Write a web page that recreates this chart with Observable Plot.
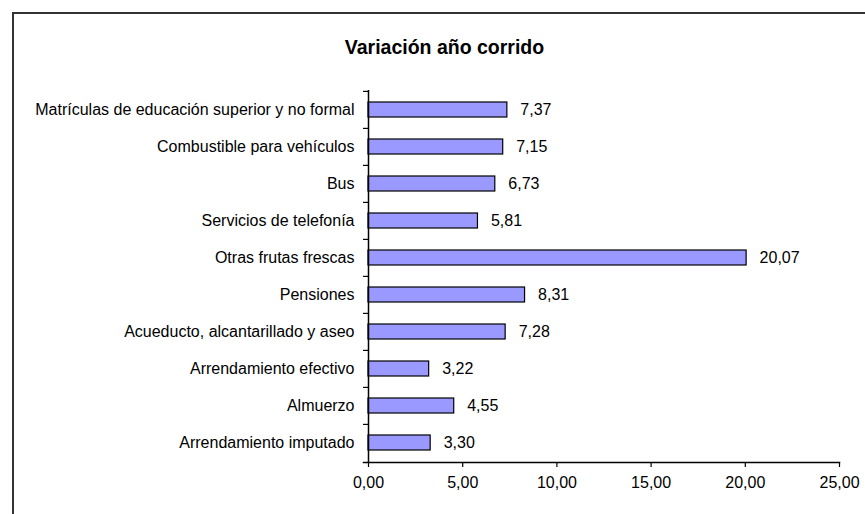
<!DOCTYPE html>
<html>
<head>
<meta charset="utf-8">
<script src="https://cdn.jsdelivr.net/npm/d3@7"></script>
<script src="https://cdn.jsdelivr.net/npm/@observablehq/plot@0.6"></script>
<style>
  html, body { margin: 0; padding: 0; background: #fff; }
  #wrap { position: relative; width: 865px; height: 514px; overflow: hidden; font-family: "Liberation Sans", Arial, sans-serif; }
  #border { position: absolute; left: 12px; top: 12px; width: 900px; height: 600px; border-left: 2px solid #333; border-top: 2px solid #333; }
  #title { position: absolute; left: 0; width: 889px; top: 36px; line-height: 22px; text-align: center; font-weight: bold; font-size: 19.5px; color: #000; }
  #chart { position: absolute; left: 0; top: 0; }
</style>
</head>
<body>
<div id="wrap">
  <div id="border"></div>
  <div id="title">Variación año corrido</div>
  <div id="chart"></div>
</div>
<script>
const categories = [
  "Matrículas de educación superior y no formal",
  "Combustible para vehículos",
  "Bus",
  "Servicios de telefonía",
  "Otras frutas frescas",
  "Pensiones",
  "Acueducto, alcantarillado y aseo",
  "Arrendamiento efectivo",
  "Almuerzo",
  "Arrendamiento imputado"
];
const values = [7.37, 7.15, 6.73, 5.81, 20.07, 8.31, 7.28, 3.22, 4.55, 3.30];
const xTicks = [0, 5, 10, 15, 20, 25];

const data = categories.map((c, i) => ({category: c, value: values[i]}));
const fmt = v => v.toFixed(2).replace(".", ",");

const marginTop = 90, marginBottom = 52, height = 514;
const step = (height - marginTop - marginBottom) / categories.length;
const FS = 16;

const plot = Plot.plot({
  width: 865,
  height,
  marginLeft: 368,
  marginRight: 26,
  marginTop,
  marginBottom,
  style: {fontFamily: "'Liberation Sans', Arial, sans-serif", fontSize: FS + "px", color: "#000", background: "transparent"},
  x: {domain: [0, 25], ticks: xTicks, tickFormat: fmt, label: null},
  y: {domain: categories, paddingInner: 0.6, paddingOuter: 0.3, label: null},
  marks: [
    Plot.barX(data, {x: "value", y: "category", fill: "#9999ff", stroke: "#000", strokeWidth: 1.2}),
    Plot.text(data, {x: "value", y: "category", text: d => fmt(d.value), textAnchor: "start", dx: 13, fontSize: FS, fill: "#000"}),
    Plot.axisX({ticks: xTicks, tickFormat: fmt, tickSize: 5, tickPadding: 9, stroke: "#000", strokeWidth: 1.2, fontSize: FS, label: null}),
    Plot.axisY({tickSize: 0, tickPadding: 14, fontSize: 16, label: null}),
    Plot.axisY({tickSize: 5, text: null, dy: -step / 2, stroke: "#000", strokeWidth: 1.2, label: null}),
    Plot.ruleX([0], {stroke: "#000", strokeWidth: 1.5}),
    Plot.frame({anchor: "bottom", insetLeft: -5, stroke: "#000", strokeWidth: 1.5})
  ]
});
document.getElementById("chart").appendChild(plot);
</script>
</body>
</html>
